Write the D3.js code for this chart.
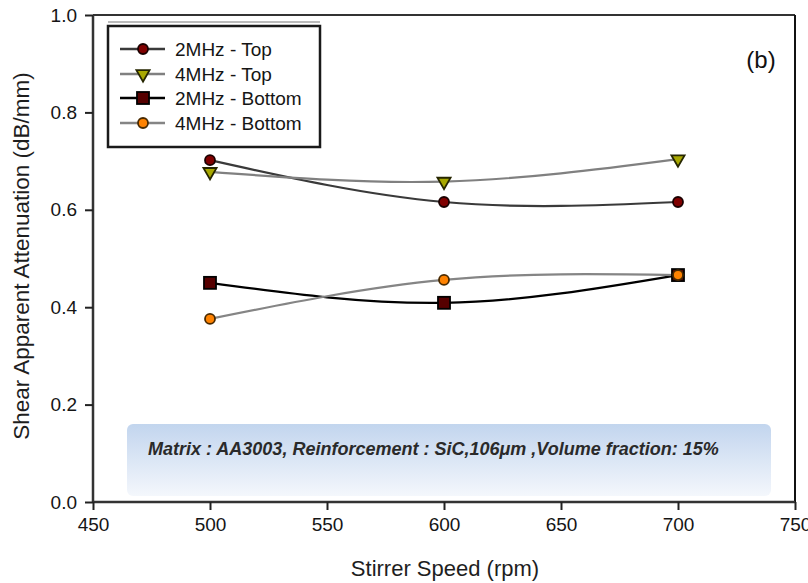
<!DOCTYPE html>
<html>
<head>
<meta charset="utf-8">
<script src="https://cdn.jsdelivr.net/npm/d3@7/dist/d3.min.js"></script>
<style>
  html, body { margin: 0; padding: 0; background: #fff; }
  svg { display: block; font-family: "Liberation Sans", Arial, sans-serif; }
</style>
</head>
<body>
<svg id="chart" width="808" height="583"></svg>
<script>
// ---- data ----
const speeds = [500, 600, 700];
const top2MHz = [0.702, 0.616, 0.616];
const top4MHz = [0.678, 0.658, 0.704];
const bottom2MHz = [0.450, 0.409, 0.466];
const bottom4MHz = [0.376, 0.456, 0.466];
const seriesNames = ["2MHz - Top", "4MHz - Top", "2MHz - Bottom", "4MHz - Bottom"];
const xTicks = [450, 500, 550, 600, 650, 700, 750];
const yTicks = [0.0, 0.2, 0.4, 0.6, 0.8, 1.0];
const xTitle = "Stirrer Speed (rpm)";
const yTitle = "Shear Apparent Attenuation (dB/mm)";
const panelLabel = "(b)";
const noteText = "Matrix : AA3003, Reinforcement : SiC,106\u03bcm ,Volume fraction: 15%";

(function () {
const series = [
  { name: seriesNames[0], values: top2MHz, line: "#3a3a3a", fill: "#800000", stroke: "#1a0000", shape: "circle" },
  { name: seriesNames[1], values: top4MHz, line: "#808080", fill: "#a8a800", stroke: "#262600", shape: "triangle" },
  { name: seriesNames[2], values: bottom2MHz, line: "#000000", fill: "#560000", stroke: "#000000", shape: "square" },
  { name: seriesNames[3], values: bottom4MHz, line: "#858585", fill: "#ff8200", stroke: "#4a2a00", shape: "circle" }
];

const svg = d3.select("#chart");
const pL = 93, pR = 795, pT = 15, pB = 502;
const x = d3.scaleLinear().domain([450, 750]).range([pL, pR]);
const y = d3.scaleLinear().domain([0, 1]).range([pB, pT]);

const defs = svg.append("defs");
const grad = defs.append("linearGradient").attr("id", "noteGrad")
  .attr("x1", 0).attr("y1", 0).attr("x2", 0).attr("y2", 1);
grad.append("stop").attr("offset", "0%").attr("stop-color", "#c2d5ee");
grad.append("stop").attr("offset", "100%").attr("stop-color", "#f4f7fc");

svg.append("rect")
  .attr("x", 127).attr("y", 424).attr("width", 644).attr("height", 72)
  .attr("rx", 6).attr("ry", 6)
  .attr("fill", "url(#noteGrad)");
svg.append("text")
  .attr("x", 148).attr("y", 455)
  .attr("font-size", 18).attr("font-style", "italic").attr("font-weight", "bold")
  .attr("fill", "#2a2a2a")
  .text(noteText);

svg.append("line").attr("x1", pL).attr("x2", pR).attr("y1", pT).attr("y2", pT)
  .attr("stroke", "#333").attr("stroke-width", 2);
svg.append("line").attr("x1", pR).attr("x2", pR).attr("y1", pT).attr("y2", pB)
  .attr("stroke", "#111").attr("stroke-width", 2);

const xAxis = d3.axisBottom(x).tickValues(xTicks).tickFormat(d3.format("d")).tickSizeOuter(0).tickSize(8).tickPadding(8);
const yAxis = d3.axisLeft(y).tickValues(yTicks).tickFormat(d3.format(".1f")).tickSizeOuter(0).tickSize(8).tickPadding(8);

const gx = svg.append("g").attr("transform", `translate(0,${pB})`).call(xAxis);
const gy = svg.append("g").attr("transform", `translate(${pL},0)`).call(yAxis);
[gx, gy].forEach(g => {
  g.select(".domain").attr("stroke", "#333").attr("stroke-width", 2.5);
  g.selectAll(".tick line").attr("stroke", "#222").attr("stroke-width", 2);
  g.selectAll(".tick text").attr("font-size", 19).attr("fill", "#151515")
    .attr("font-family", "'Liberation Sans', Arial, sans-serif");
});
gx.select(".domain").attr("d", `M${pL},0H${pR}`);
gy.select(".domain").attr("d", `M0,${pB}V${pT}`);

svg.append("text")
  .attr("x", 445).attr("y", 576)
  .attr("text-anchor", "middle").attr("font-size", 22).attr("fill", "#1e1e1e")
  .text(xTitle);
svg.append("text")
  .attr("transform", `translate(29,256) rotate(-90)`)
  .attr("text-anchor", "middle").attr("font-size", 22.5).attr("fill", "#1e1e1e")
  .text(yTitle);

svg.append("text")
  .attr("x", 761).attr("y", 68).attr("text-anchor", "middle")
  .attr("font-size", 24).attr("fill", "#111").text(panelLabel);

function drawMarker(g, s, cx, cy) {
  if (s.shape === "circle") {
    g.append("circle").attr("cx", cx).attr("cy", cy).attr("r", 5)
      .attr("fill", s.fill).attr("stroke", s.stroke).attr("stroke-width", 1.8);
  } else if (s.shape === "square") {
    g.append("rect").attr("x", cx - 6).attr("y", cy - 6).attr("width", 12).attr("height", 12)
      .attr("fill", s.fill).attr("stroke", s.stroke).attr("stroke-width", 1.8);
  } else {
    const sym = d3.symbol().type(d3.symbolTriangle).size(75);
    g.append("path").attr("d", sym())
      .attr("transform", `translate(${cx},${cy}) rotate(180)`)
      .attr("fill", s.fill).attr("stroke", s.stroke).attr("stroke-width", 1.8);
  }
}

const lineGen = d3.line().x(d => x(d[0])).y(d => y(d[1])).curve(d3.curveNatural);
const plot = svg.append("g");
series.forEach(s => {
  const pts = speeds.map((sp, i) => [sp, s.values[i]]);
  plot.append("path").datum(pts).attr("d", lineGen)
    .attr("fill", "none").attr("stroke", s.line).attr("stroke-width", 2.2);
});
series.forEach(s => {
  speeds.forEach((sp, i) => drawMarker(plot, s, x(sp), y(s.values[i])));
});

const lg = svg.append("g");
lg.append("line").attr("x1", 108).attr("x2", 320).attr("y1", 22).attr("y2", 22)
  .attr("stroke", "#bbb").attr("stroke-width", 2);
lg.append("rect").attr("x", 108).attr("y", 26).attr("width", 212).attr("height", 121)
  .attr("fill", "#fff").attr("stroke", "#1a1a1a").attr("stroke-width", 2.5);
const rowY = [49, 74, 98, 123];
series.forEach((s, i) => {
  lg.append("line").attr("x1", 120).attr("x2", 165).attr("y1", rowY[i]).attr("y2", rowY[i])
    .attr("stroke", s.line).attr("stroke-width", 2.5);
  drawMarker(lg, s, 143, rowY[i]);
  lg.append("text").attr("x", 175).attr("y", rowY[i] + 7)
    .attr("font-size", 19).attr("fill", "#151515").text(s.name);
});
})();
</script>
</body>
</html>
